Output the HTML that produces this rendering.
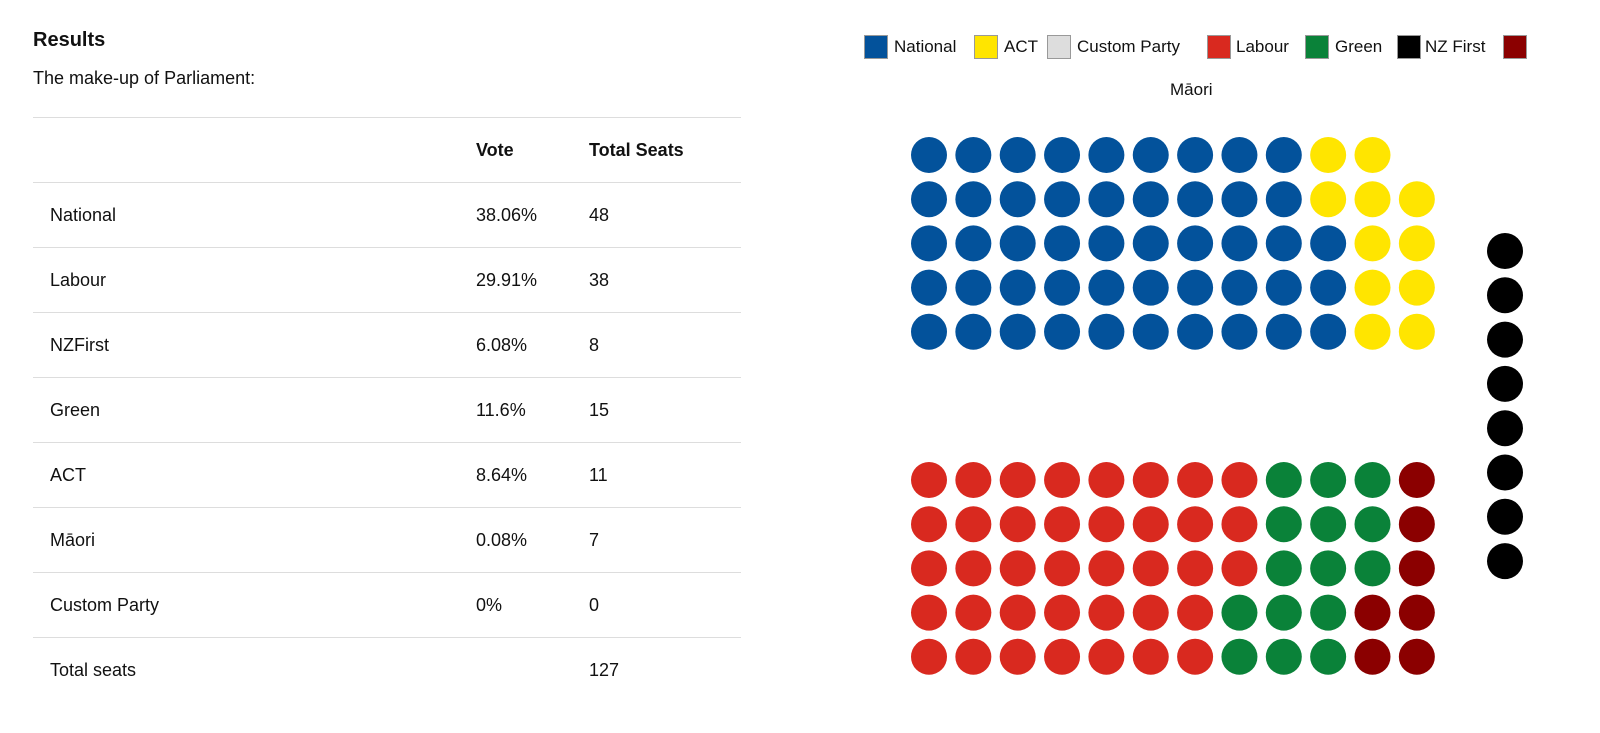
<!DOCTYPE html>
<html><head><meta charset="utf-8"><style>
body{margin:0;width:1600px;height:733px;background:#fff;font-family:"Liberation Sans",sans-serif;color:#111;position:relative;overflow:hidden}
.abs{position:absolute}
table{position:absolute;left:33px;top:117px;width:708px;border-collapse:collapse;font-size:18px}
td,th{height:64px;border-top:1px solid #ddd;text-align:left;padding:0;vertical-align:middle}
th{font-weight:bold}
td.n,th.n{padding-left:17px;width:426px}
td.v,th.v{width:113px}
.leg{position:absolute;top:35px;height:24px;font-size:17px;line-height:24px}
.sw{position:absolute;top:35px;width:22px;height:22px;border:1px solid #999}
</style></head><body>
<div class="abs" style="left:33px;top:29px;font-size:20px;font-weight:bold">Results</div>
<div class="abs" style="left:33px;top:68px;font-size:18px">The make-up of Parliament:</div>
<table>
<tr><th class="n"></th><th class="v">Vote</th><th>Total Seats</th></tr>
<tr><td class="n">National</td><td class="v">38.06%</td><td>48</td></tr>
<tr><td class="n">Labour</td><td class="v">29.91%</td><td>38</td></tr>
<tr><td class="n">NZFirst</td><td class="v">6.08%</td><td>8</td></tr>
<tr><td class="n">Green</td><td class="v">11.6%</td><td>15</td></tr>
<tr><td class="n">ACT</td><td class="v">8.64%</td><td>11</td></tr>
<tr><td class="n">Māori</td><td class="v">0.08%</td><td>7</td></tr>
<tr><td class="n">Custom Party</td><td class="v">0%</td><td>0</td></tr>
<tr><td class="n">Total seats</td><td class="v"></td><td>127</td></tr>
</table>
<div>
<div class="sw" style="left:864px;background:#03529b"></div><div class="leg" style="left:894px">National</div>
<div class="sw" style="left:974px;background:#ffe500"></div><div class="leg" style="left:1004px">ACT</div>
<div class="sw" style="left:1047px;background:#ddd"></div><div class="leg" style="left:1077px">Custom Party</div>
<div class="sw" style="left:1207px;background:#d9291f"></div><div class="leg" style="left:1236px">Labour</div>
<div class="sw" style="left:1305px;background:#0a8239"></div><div class="leg" style="left:1335px">Green</div>
<div class="sw" style="left:1397px;background:#000"></div><div class="leg" style="left:1425px">NZ First</div>
<div class="sw" style="left:1503px;background:#8b0000"></div>
<div class="leg" style="left:1170px;top:78px">Māori</div>
</div>
<svg class="abs" style="left:0;top:0" width="1600" height="733" id="chart"></svg>
<script>
const topParties=["National","ACT"];
const topSeats=[48,11];
const topColors=["#03529b","#ffe500"];
const botParties=["Labour","Green","Māori"];
const botSeats=[38,15,7];
const botColors=["#d9291f","#0a8239","#8b0000"];
const sideParties=["NZ First"];
const sideSeats=[8];
const svg=document.getElementById('chart');
const NS="http://www.w3.org/2000/svg";
function cx(c){return 929+c*44.35;}
function dot(x,y,col,name){
 const e=document.createElementNS(NS,'circle');
 e.setAttribute('cx',x);e.setAttribute('cy',y);e.setAttribute('r',18);e.setAttribute('fill',col);
 
 
 svg.appendChild(e);
}
function block(seats,colors,names,y0,bottomUp){
 let i=0;
 seats.forEach((n,p)=>{for(let k=0;k<n;k++,i++){
  const c=Math.floor(i/5),r=i%5;const row=bottomUp?4-r:r;
  dot(cx(c),y0+row*44.2,colors[p],names[p].toLowerCase().replace(/\s+/g,'-')+'-seat');}});
}
block(topSeats,topColors,topParties,155,true);
block(botSeats,botColors,botParties,480,false);
for(let k=0;k<sideSeats[0];k++)dot(1505,251+k*44.3,"#000","nz-first-seat");
</script>
</body></html>
